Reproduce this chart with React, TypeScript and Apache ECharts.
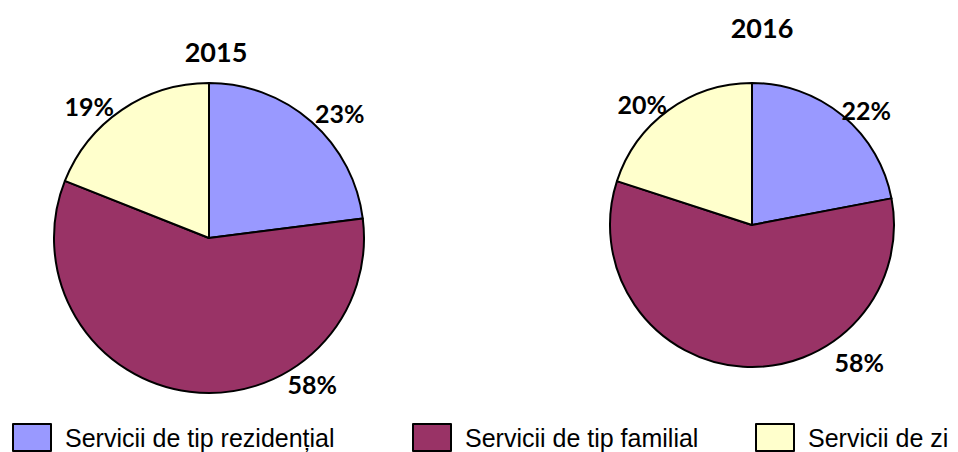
import React, { useEffect, useRef } from "react";
import * as echarts from "echarts";

const categories = ["Servicii de tip rezidențial", "Servicii de tip familial", "Servicii de zi"];
const years = ["2015", "2016"];
const values2015 = [23, 58, 19];
const values2016 = [22, 58, 20];

const colors = ["#9999FF", "#993366", "#FFFFCC"];

// layout (pixels)
const centers: [number, number][] = [[209, 238], [752, 225]];
const radii = [155, 142];
// label placement: angle (deg, clockwise from top) and distance from centre
const labelAngles = [[46.3, 144.8, -42.3], [44.8, 142, -42.3]];
const labelDists = [[181, 179, 178], [162, 174, 163]];
const titlePos = [[211, 33], [757, 9]];
const legendLeft = [12, 412, 755];

export default function App() {
  const ref = useRef<HTMLDivElement>(null);
  useEffect(() => {
    if (!ref.current) return;
    const chart = echarts.init(ref.current, undefined, { renderer: "svg" });
    const allValues = [values2015, values2016];
    const font = "Lato, 'Open Sans', sans-serif";
    chart.setOption({
      animation: false,
      backgroundColor: "#ffffff",
      title: years.map((y, i) => ({
        text: y,
        left: titlePos[i][0],
        top: titlePos[i][1],
        textAlign: "center",
        textStyle: { fontFamily: font, fontWeight: "bold", fontSize: 27, color: "#000" },
      })),
      legend: categories.map((c, i) => ({
        data: [c],
        left: legendLeft[i],
        top: 423,
        padding: 0,
        icon: "rect",
        itemWidth: 38,
        itemHeight: 27,
        selectedMode: false,
        textStyle: {
          fontFamily: "'Liberation Sans', Arial, sans-serif",
          fontSize: 25,
          lineHeight: 25,
          color: "#000",
          padding: [0, 0, 0, 9],
        },
      })),
      series: years.map((y, si) => ({
        type: "pie",
        name: y,
        center: centers[si],
        radius: radii[si],
        startAngle: 90,
        clockwise: true,
        avoidLabelOverlap: false,
        itemStyle: { borderColor: "#000", borderWidth: 2 },
        label: {
          show: true,
          position: "outside",
          formatter: "{c}%",
          fontFamily: font,
          fontWeight: "bold",
          fontSize: 25,
          color: "#000",
        },
        labelLine: { show: false },
        labelLayout: (p: any) => {
          const a = (labelAngles[si][p.dataIndex] * Math.PI) / 180;
          const d = labelDists[si][p.dataIndex];
          return {
            x: centers[si][0] + d * Math.sin(a),
            y: centers[si][1] - d * Math.cos(a),
            align: "center",
            verticalAlign: "middle",
          };
        },
        emphasis: { disabled: true },
        data: categories.map((c, i) => ({
          name: c,
          value: allValues[si][i],
          itemStyle: { color: colors[i] },
        })),
      })),
    });
    return () => chart.dispose();
  }, []);
  return (
    <div
      ref={ref}
      style={{ position: "absolute", left: 0, top: 0, width: 958, height: 452 }}
    />
  );
}
